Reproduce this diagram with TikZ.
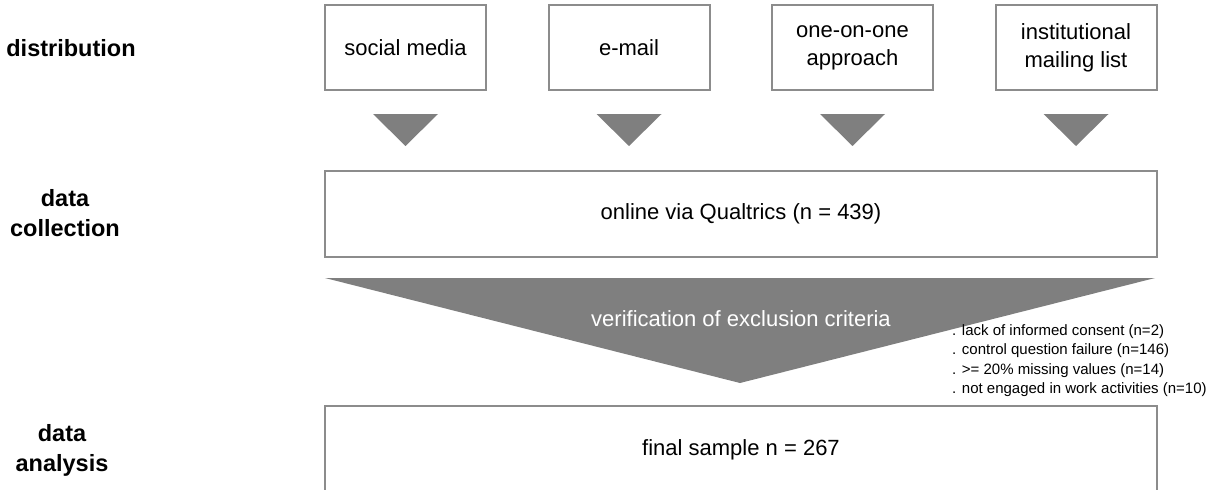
\documentclass[tikz,border=0pt]{standalone}
\usepackage{fontspec}
\setmainfont{Liberation Sans}
\usetikzlibrary{positioning, calc}
\definecolor{framegray}{HTML}{8C8C8C}
\definecolor{fillgray}{HTML}{7F7F7F}
\tikzset{
    source/.style={rectangle, minimum width=161pt, minimum height=85pt, text centered, align=center, draw=framegray, line width=2pt, font=\fontsize{22}{28}\selectfont},
    wide/.style={source, minimum width=832pt, minimum height=86pt},
    phase/.style={font=\bfseries\fontsize{23.5}{30}\selectfont, align=center},
    wedge/.style={fill=fillgray, draw=none}
}

\begin{document}
\begin{tikzpicture}[x=1pt, y=1pt, node distance=223.5pt]
    \useasboundingbox (0,0) rectangle (1224,-490);

    % phases on the left
    \node (distrib) [phase] at (71,-48) {distribution};
    \node (collectlbl) [phase] at (65,-213) {data\\collection};
    \node (analysis) [phase] at (62,-450) {data\\analysis};

    % distribution channels
    \node (social) [source] at (405.5,-47.5) {social media};
    \node (email) [source, right of=social] {e-mail};
    \node (oneone) [source, right of=email] {one-on-one\\approach};
    \node (mailing) [source, right of=oneone] {institutional\\mailing list};

    \node (collect) [wide] at (741,-214) {online via Qualtrics (n = 439)};
    \node (final) [wide, minimum height=88pt] at (741,-450) {final sample n = 267};

    \fill [wedge] ($(social.south)+(-32.5,-23)$) -- ++(65,0) -- ($(social.south)+(0,-55)$) -- cycle;
    \fill [wedge] ($(email.south)+(-32.5,-23)$) -- ++(65,0) -- ($(email.south)+(0,-55)$) -- cycle;
    \fill [wedge] ($(oneone.south)+(-32.5,-23)$) -- ++(65,0) -- ($(oneone.south)+(0,-55)$) -- cycle;
    \fill [wedge] ($(mailing.south)+(-32.5,-23)$) -- ++(65,0) -- ($(mailing.south)+(0,-55)$) -- cycle;

    % funnel between collection and analysis
    \fill [wedge] ($(collect.south west)+(1,-20)$) -- ($(collect.south east)+(-3,-20)$) -- ($(collect.south)+(-1,-125)$) -- cycle;
    \node (verify) [text=white, font=\fontsize{22}{24}\selectfont] at ($(collect.south)+(0,-61)$) {verification of exclusion criteria};

    \node (criteria) [anchor=north west, align=left, inner sep=0pt, font=\fontsize{15}{19.5}\selectfont] at (952,-324) {. lack of informed consent (n=2)\\. control question failure (n=146)\\. >= 20\% missing values (n=14)\\. not engaged in work activities (n=10)};
\end{tikzpicture}
\end{document}
